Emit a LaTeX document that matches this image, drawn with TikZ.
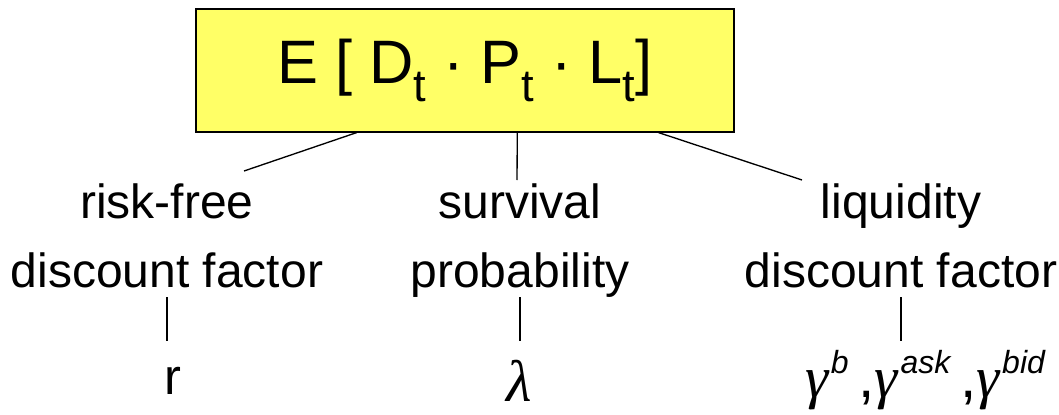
\documentclass[tikz,border=0pt]{standalone}
\usepackage{fontspec}
\setmainfont{Liberation Sans}
\newfontfamily\greekfont{Liberation Serif}
\usetikzlibrary{positioning,calc}
\definecolor{boxyellow}{RGB}{255,255,102}
\newcommand{\lowt}{\raisebox{-0.3em}{\fontsize{34}{34}\selectfont t}}
\newcommand{\upidx}[1]{\kern2pt\raisebox{18pt}{\fontsize{24}{24}\selectfont\normalfont\itshape #1}}

\begin{document}
\begin{tikzpicture}[x=0.75pt, y=-0.75pt,
formula/.style={rectangle, draw, fill=boxyellow, line width=0.9pt, minimum width=403.5pt, minimum height=92.25pt, font=\fontsize{46}{50}\selectfont},
factor/.style={align=center, inner sep=0pt, text depth=7pt, font=\fontsize{36}{52}\selectfont},
symb/.style={inner sep=0pt, font=\fontsize{38}{40}\selectfont},
greek/.style={inner sep=0pt, font=\fontsize{44}{46}\selectfont\greekfont\itshape},
link/.style={line width=1pt}
]
\useasboundingbox (0,0) rectangle (1059,414);

\node[formula] (expect) at (465,70.5) {E [ D\lowt{} · P\lowt{} · L\lowt]};

\node[factor, anchor=south] (riskfree) at (167,297) {risk-free\\discount factor};
\node[factor, anchor=south] (survival) at (520,297) {survival\\probability};
\node[factor, anchor=south] (liquidity) at (901,297) {liquidity\\discount factor};

\node[symb, anchor=base] (rate) at (173,394) {r};
\node[greek, anchor=base] (hazard) at (519,401) {λ};
\node[greek, anchor=base] (spread) at (925,397) {γ\upidx{b}\,{\normalfont,}γ\upidx{ask}\,{\normalfont,}γ\upidx{bid}};

\coordinate (lend) at (244,171);
\coordinate (mend) at (517,180);
\coordinate (rend) at (802,180);
\coordinate (stem) at (0,341);

% upper connectors
\draw[link] ($(expect.south west)!0.299!(expect.south east)$) -- (lend);
\draw[link] ($(expect.south west)!0.597!(expect.south east)$) -- (mend);
\draw[link] ($(expect.south west)!0.859!(expect.south east)$) -- (rend);

% lower connectors
\draw[link] (riskfree.south) -- (riskfree.south |- stem);
\draw[link] (survival.south) -- (survival.south |- stem);
\draw[link] (liquidity.south) -- (liquidity.south |- stem);
\end{tikzpicture}
\end{document}
